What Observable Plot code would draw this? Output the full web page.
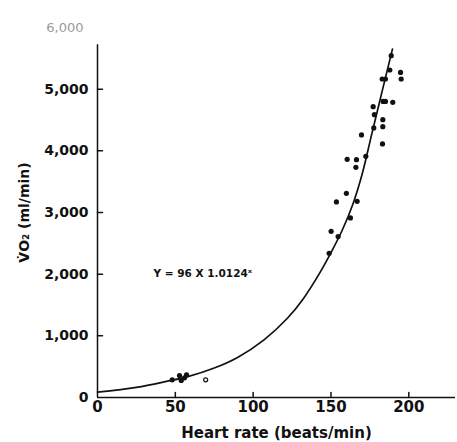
<!DOCTYPE html>
<html>
<head>
<meta charset="utf-8">
<script src="https://cdn.jsdelivr.net/npm/d3@7"></script>
<script src="https://cdn.jsdelivr.net/npm/@observablehq/plot@0.6"></script>
<style>
  html, body { margin: 0; padding: 0; background: #fff; }
  #chart svg { display: block; }
</style>
</head>
<body>
<div id="chart"></div>
<script>
// Measured points (heart rate, VO2)
const heartRate = [48, 52.7, 53.8, 55.9, 57.2,
  188.7, 187.8, 194.7, 195.1, 182.9, 185.0, 183.5, 185.0, 189.7, 177.1, 177.9, 183.3, 177.5, 183.3,
  169.6, 183.1, 160.4, 166.4, 172.4, 166.0, 159.9, 153.5, 166.8, 162.5, 150.1, 154.6, 148.8];
const vo2 = [287, 357, 276, 319, 368,
  5543, 5311, 5272, 5165, 5165, 5165, 4802, 4802, 4786, 4716, 4587, 4506, 4371, 4392,
  4258, 4112, 3862, 3857, 3911, 3733, 3311, 3172, 3182, 2912, 2695, 2609, 2339];
// Open-circle point
const openHeartRate = [69.5];
const openVo2 = [287];
// Fitted curve
const curveHeartRate = [0, 25, 45, 57.5, 75, 90, 107, 122, 132, 143, 150, 157, 164, 170, 176, 183, 189.5];
const curveVo2 = [88, 165, 265, 335, 478, 650, 935, 1285, 1595, 2030, 2350, 2700, 3130, 3620, 4250, 4980, 5650];
// Axis ticks
const xTicks = [0, 50, 100, 150, 200];
const xTickMarks = [50, 100, 150, 200];
const yTicks = [0, 1000, 2000, 3000, 4000, 5000];
const yTickMarks = [1000, 2000, 3000, 4000, 5000];
const yTopTick = [6000];
const formulaText = ["Y = 96 X 1.0124ˣ"];
const formulaHr = [36];
const formulaVo2 = [2010];

const points = heartRate.map((h, i) => ({h, v: vo2[i]}));
const openPts = openHeartRate.map((h, i) => ({h, v: openVo2[i]}));
const curve = curveHeartRate.map((h, i) => ({h, v: curveVo2[i]}));
const formula = formulaText.map((t, i) => ({t, h: formulaHr[i], v: formulaVo2[i]}));

const font = "DejaVu Sans, sans-serif";
const tickShape = {draw(context, l) { context.moveTo(0, 0); context.lineTo(0, -l); }};

const chart = Plot.plot({
  width: 457,
  height: 442,
  marginLeft: 97,
  marginRight: 2,
  marginTop: 27,
  marginBottom: 45,
  style: {fontFamily: font, background: "#fff", color: "#111"},
  x: {domain: [0, 230]},
  y: {domain: [0, 6000]},
  marks: [
    Plot.axisX({ticks: xTicks, tickSize: 0, tickPadding: 4, fontSize: 15, fontWeight: "bold",
      label: "Heart rate (beats/min)", labelAnchor: "center", labelOffset: 40, labelArrow: false,
      tickFormat: d => String(d)}),
    Plot.axisY({ticks: yTicks, tickSize: 0, tickPadding: 9, fontSize: 14, fontWeight: "bold",
      tickFormat: d3.format(","),
      label: "V̇O₂ (ml/min)", labelAnchor: "center", labelOffset: 78, labelArrow: false}),
    Plot.axisY({ticks: yTopTick, tickSize: 0, tickPadding: 14, fontSize: 13, fill: "#9a9a9a",
      tickFormat: d3.format(","), label: null}),
    Plot.vector(yTickMarks, {x: 0, y: d => d, length: 5, rotate: 90, anchor: "start",
      shape: tickShape, stroke: "#111", strokeWidth: 1.5}),
    Plot.vector(xTickMarks, {x: d => d, y: 0, length: 5, rotate: 0, anchor: "start",
      shape: tickShape, stroke: "#111", strokeWidth: 1.5}),
    Plot.ruleX([0], {y1: 0, y2: 5720, stroke: "#111", strokeWidth: 1.5}),
    Plot.ruleY([0], {x1: 0, x2: 230, stroke: "#111", strokeWidth: 1.5}),
    Plot.line(curve, {x: "h", y: "v", curve: "catmull-rom", stroke: "#111", strokeWidth: 1.7}),
    Plot.dot(points, {x: "h", y: "v", r: 2.6, fill: "#111", stroke: "none"}),
    Plot.dot(openPts, {x: "h", y: "v", r: 2, fill: "#fff", stroke: "#111", strokeWidth: 1.2}),
    Plot.text(formula, {x: "h", y: "v", text: "t", textAnchor: "start", fontSize: 10.5,
      fontWeight: "bold", fill: "#111"})
  ]
});
document.getElementById("chart").appendChild(chart);
</script>
</body>
</html>
